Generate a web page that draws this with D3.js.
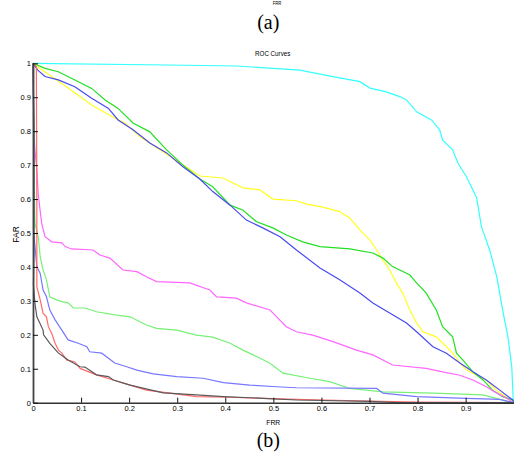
<!DOCTYPE html>
<html>
<head>
<meta charset="utf-8">
<script src="https://cdn.jsdelivr.net/npm/d3@7"></script>
<style>
  html, body { margin: 0; padding: 0; background: #fff; }
  svg { display: block; }
  text { fill: #000; }
</style>
</head>
<body>
<div id="chart"></div>
<script>
// ---- data (FRR, FAR) pairs ----
const xTicks = [0, 0.1, 0.2, 0.3, 0.4, 0.5, 0.6, 0.7, 0.8, 0.9];
const xTickLabels = ["0", "0.1", "0.2", "0.3", "0.4", "0.5", "0.6", "0.7", "0.8", "0.9"];
const yTicks = [0, 0.1, 0.2, 0.3, 0.4, 0.5, 0.6, 0.7, 0.8, 0.9, 1];
const yTickLabels = ["0", "0.1", "0.2", "0.3", "0.4", "0.5", "0.6", "0.7", "0.8", "0.9", "1"];

const curveCyan = [[0,1],[0.278,0.995],[0.4235,0.992],[0.555,0.980],[0.624,0.961],[0.680,0.946],[0.701,0.927],[0.735,0.916],[0.763,0.902],[0.777,0.892],[0.798,0.857],[0.829,0.833],[0.846,0.804],[0.852,0.774],[0.873,0.745],[0.884,0.706],[0.902,0.665],[0.923,0.603],[0.933,0.518],[0.950,0.450],[0.965,0.370],[0.977,0.273],[0.988,0.194],[0.996,0.105],[0.999,0.008],[1,0]];

const curveYellow = [[0,1],[0.004,0.995],[0.0665,0.934],[0.122,0.877],[0.164,0.843],[0.191,0.824],[0.222,0.784],[0.264,0.745],[0.306,0.706],[0.347,0.668],[0.395,0.662],[0.437,0.633],[0.472,0.627],[0.499,0.600],[0.548,0.595],[0.569,0.585],[0.603,0.576],[0.638,0.563],[0.659,0.544],[0.680,0.509],[0.701,0.479],[0.715,0.450],[0.728,0.420],[0.742,0.391],[0.756,0.353],[0.769,0.323],[0.784,0.273],[0.798,0.235],[0.811,0.209],[0.839,0.194],[0.860,0.165],[0.873,0.146],[0.888,0.117],[0.902,0.096],[0.943,0.067],[0.964,0.037],[0.992,0.008],[1,0]];

const curveGreen = [[0,1],[0.025,0.985],[0.0526,0.975],[0.087,0.951],[0.122,0.926],[0.150,0.892],[0.177,0.867],[0.208,0.824],[0.243,0.798],[0.278,0.745],[0.312,0.700],[0.347,0.659],[0.374,0.636],[0.410,0.582],[0.437,0.567],[0.465,0.533],[0.499,0.515],[0.527,0.494],[0.561,0.474],[0.597,0.460],[0.659,0.453],[0.707,0.441],[0.728,0.426],[0.748,0.401],[0.784,0.376],[0.798,0.353],[0.818,0.323],[0.839,0.273],[0.852,0.224],[0.873,0.194],[0.881,0.146],[0.894,0.126],[0.915,0.091],[0.936,0.067],[0.956,0.037],[0.977,0.018],[0.998,0.008],[1,0]];

const curveBlue = [[0,1],[0.01,0.98],[0.025,0.961],[0.0526,0.951],[0.087,0.931],[0.122,0.897],[0.157,0.867],[0.177,0.833],[0.208,0.804],[0.243,0.765],[0.278,0.736],[0.312,0.695],[0.347,0.659],[0.374,0.622],[0.410,0.582],[0.444,0.538],[0.478,0.515],[0.514,0.489],[0.548,0.450],[0.597,0.397],[0.638,0.362],[0.680,0.323],[0.707,0.294],[0.742,0.264],[0.777,0.235],[0.798,0.209],[0.832,0.165],[0.860,0.146],[0.888,0.117],[0.915,0.091],[0.943,0.067],[0.971,0.037],[0.998,0.008],[1,0]];

const curveMagenta = [[0,1],[0.002,0.80],[0.004,0.745],[0.008,0.686],[0.011,0.612],[0.018,0.529],[0.025,0.489],[0.039,0.474],[0.060,0.471],[0.067,0.460],[0.080,0.453],[0.125,0.450],[0.139,0.435],[0.160,0.426],[0.187,0.391],[0.216,0.386],[0.236,0.371],[0.257,0.357],[0.326,0.353],[0.368,0.332],[0.382,0.312],[0.423,0.308],[0.444,0.294],[0.493,0.273],[0.507,0.253],[0.527,0.224],[0.548,0.209],[0.582,0.199],[0.624,0.180],[0.673,0.155],[0.707,0.141],[0.748,0.111],[0.818,0.101],[0.852,0.091],[0.888,0.081],[0.915,0.067],[0.943,0.047],[0.964,0.029],[0.985,0.014],[1,0]];

const curveLightGreen = [[0,1],[0.002,0.80],[0.003,0.62],[0.004,0.529],[0.011,0.489],[0.015,0.430],[0.021,0.391],[0.028,0.362],[0.035,0.312],[0.049,0.303],[0.060,0.298],[0.073,0.294],[0.084,0.279],[0.108,0.279],[0.132,0.268],[0.174,0.258],[0.202,0.253],[0.236,0.229],[0.257,0.219],[0.299,0.214],[0.340,0.199],[0.374,0.193],[0.410,0.175],[0.437,0.155],[0.465,0.136],[0.493,0.116],[0.520,0.087],[0.576,0.072],[0.617,0.062],[0.659,0.042],[0.728,0.032],[0.832,0.028],[0.936,0.023],[0.971,0.010],[1,0]];

const curveLightBlue = [[0,1],[0.001,0.80],[0.001,0.509],[0.008,0.401],[0.015,0.381],[0.021,0.332],[0.028,0.312],[0.035,0.273],[0.046,0.244],[0.060,0.214],[0.073,0.185],[0.094,0.175],[0.112,0.165],[0.118,0.150],[0.143,0.146],[0.157,0.131],[0.170,0.117],[0.195,0.106],[0.216,0.096],[0.250,0.085],[0.299,0.077],[0.354,0.072],[0.396,0.059],[0.451,0.052],[0.507,0.047],[0.548,0.044],[0.715,0.042],[0.728,0.028],[0.798,0.018],[0.902,0.013],[0.971,0.010],[1,0]];

const curveRed = [[0,1],[0.007,0.99],[0.008,0.60],[0.008,0.40],[0.008,0.342],[0.015,0.303],[0.021,0.263],[0.028,0.253],[0.032,0.224],[0.039,0.204],[0.046,0.175],[0.053,0.155],[0.060,0.146],[0.070,0.126],[0.087,0.120],[0.098,0.101],[0.132,0.082],[0.167,0.067],[0.202,0.052],[0.236,0.037],[0.285,0.028],[0.340,0.018],[0.410,0.016],[0.479,0.013],[0.548,0.010],[0.604,0.008],[0.70,0.005],[0.80,0.002],[1,0]];

const curveGray = [[0,1],[0.002,0.80],[0.002,0.45],[0.001,0.347],[0.004,0.293],[0.008,0.253],[0.021,0.214],[0.022,0.200],[0.035,0.175],[0.053,0.146],[0.063,0.136],[0.073,0.126],[0.098,0.106],[0.108,0.105],[0.132,0.082],[0.157,0.077],[0.167,0.067],[0.202,0.052],[0.271,0.029],[0.340,0.023],[0.396,0.018],[0.479,0.013],[0.548,0.008],[0.70,0.004],[0.76,0.0005],[1,0]];

const seriesList = [curveCyan, curveYellow, curveGreen, curveBlue, curveMagenta, curveLightGreen, curveLightBlue, curveRed, curveGray];
const seriesColors = ["#33ffff", "#ffff22", "#22e022", "#4a4af0", "#ff66ff", "#77f077", "#7777ff", "#ff6a6a", "#5a5a5a"];

// ---- drawing ----
const W = 514, H = 453;
const SANS = "'Liberation Sans', Arial, sans-serif";
const SERIF = "'Liberation Serif', 'Times New Roman', serif";
const svg = d3.select("#chart").append("svg").attr("width", W).attr("height", H);

const x = d3.scaleLinear().domain([0, 1]).range([33, 513.7]);
const y = d3.scaleLinear().domain([0, 1]).range([402.7, 63.3]);

// top partially visible label and figure captions
svg.append("g").attr("transform", "translate(277,4.5) scale(0.85,1)")
  .append("text").attr("text-anchor", "middle").style("font-family", SANS).style("font-size", "5px").text("FRR");
svg.append("text").attr("x", 268.3).attr("y", 28.5).attr("text-anchor", "middle")
  .style("font-family", SERIF).style("font-size", "20px").text("(a)");
svg.append("text").attr("x", 268.3).attr("y", 446.5).attr("text-anchor", "middle")
  .style("font-family", SERIF).style("font-size", "20px").text("(b)");

// title
svg.append("g").attr("transform", "translate(272.7,56) scale(0.78,1)")
  .append("text").attr("text-anchor", "middle").style("font-family", SANS).style("font-size", "8px").text("ROC Curves");

// curves
const line = d3.line().x(d => x(d[0])).y(d => y(d[1]));
svg.append("g").selectAll("path").data(seriesList).join("path")
  .attr("d", line)
  .attr("fill", "none")
  .attr("stroke", (d, i) => seriesColors[i])
  .attr("stroke-width", 1.2);

// axes (MATLAB style, inward ticks)
const xAxis = d3.axisBottom(x).tickValues(xTicks).tickFormat((d, i) => xTickLabels[i])
  .tickSizeInner(-5).tickSizeOuter(0).tickPadding(3);
const gx = svg.append("g").attr("transform", `translate(0,${y(0)})`).call(xAxis);
gx.selectAll("text").style("font-size", "7.5px").style("font-family", SANS);
gx.select(".domain").attr("stroke", "#333").attr("stroke-width", 1.6);
gx.selectAll(".tick line").attr("stroke", "#111");

const yAxis = d3.axisLeft(y).tickValues(yTicks).tickFormat((d, i) => yTickLabels[i])
  .tickSizeInner(-5).tickSizeOuter(0).tickPadding(2);
const gy = svg.append("g").attr("transform", `translate(${x(0)},0)`).call(yAxis);
gy.selectAll("text").style("font-size", "7.5px").style("font-family", SANS);
gy.select(".domain").attr("stroke", "#444").attr("stroke-width", 1.8);
gy.selectAll(".tick line").attr("stroke", "#111");

// axis labels
svg.append("g").attr("transform", "translate(273.3,424.5) scale(0.85,1)")
  .append("text").attr("text-anchor", "middle").style("font-family", SANS).style("font-size", "8px").text("FRR");
svg.append("g").attr("transform", "translate(19,234.5) rotate(-90)")
  .append("text").attr("text-anchor", "middle").style("font-family", SANS).style("font-size", "8.5px").text("FAR");
</script>
</body>
</html>
